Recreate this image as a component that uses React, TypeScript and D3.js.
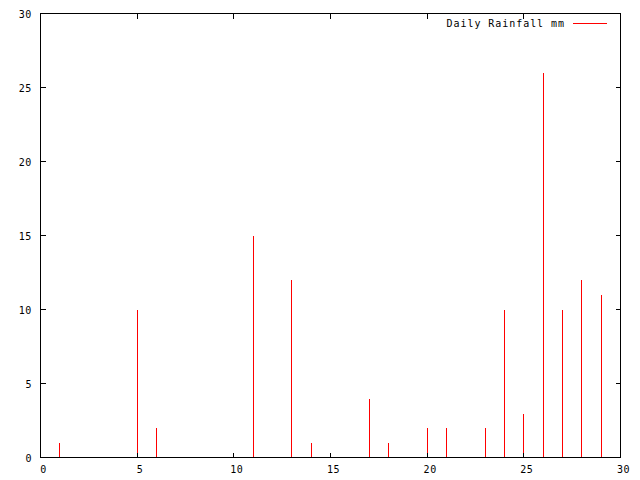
import { useEffect, useRef } from 'react'
import * as d3 from 'd3'

const days = [1, 5, 6, 11, 13, 14, 17, 18, 20, 21, 23, 24, 25, 26, 27, 28, 29]
const rainfall = [1, 10, 2, 15, 12, 1, 4, 1, 2, 2, 2, 10, 3, 26, 10, 12, 11]
const xTicks = [0, 5, 10, 15, 20, 25, 30]
const yTicks = [0, 5, 10, 15, 20, 25, 30]
const legendLabel = 'Daily Rainfall mm'

const W = 640
const H = 480
const M = { left: 40, right: 20, top: 13, bottom: 23 }
const FONT = '"DejaVu Sans Mono", monospace'

export default function App() {
  const svgRef = useRef<SVGSVGElement | null>(null)

  useEffect(() => {
    const svg = d3.select(svgRef.current)
    svg.selectAll('*').remove()

    const x = d3.scaleLinear().domain([0, 30]).range([M.left, W - M.right])
    const y = d3.scaleLinear().domain([0, 30]).range([H - M.bottom, M.top])
    const px = (v: number) => Math.round(v) + 0.5

    svg.append('rect').attr('width', W).attr('height', H).attr('fill', 'white')

    const g = svg.append('g').attr('shape-rendering', 'crispEdges')

    // impulses
    g.selectAll('.bar')
      .data(days)
      .enter()
      .append('line')
      .attr('x1', (d) => px(x(d)))
      .attr('x2', (d) => px(x(d)))
      .attr('y1', px(y(0)))
      .attr('y2', (d, i) => px(y(rainfall[i])))
      .attr('stroke', '#ff0000')
      .attr('stroke-width', 1)

    // ticks, mirrored on all four sides
    const tl = 5
    xTicks.forEach((t) => {
      const xx = px(x(t))
      g.append('line').attr('x1', xx).attr('x2', xx).attr('y1', px(y(0))).attr('y2', px(y(0)) - tl).attr('stroke', 'black')
      g.append('line').attr('x1', xx).attr('x2', xx).attr('y1', px(y(30))).attr('y2', px(y(30)) + tl).attr('stroke', 'black')
      svg.append('text')
        .attr('x', x(t) + 3.5)
        .attr('y', px(y(0)) + 15)
        .attr('text-anchor', 'middle')
        .attr('font-family', FONT)
        .attr('font-size', 10)
        .attr('letter-spacing', 0.6)
        .text(t)
    })
    yTicks.forEach((t) => {
      const yy = px(y(t))
      g.append('line').attr('x1', px(x(0))).attr('x2', px(x(0)) + tl).attr('y1', yy).attr('y2', yy).attr('stroke', 'black')
      g.append('line').attr('x1', px(x(30))).attr('x2', px(x(30)) - tl).attr('y1', yy).attr('y2', yy).attr('stroke', 'black')
      svg.append('text')
        .attr('x', 32)
        .attr('y', yy + 4)
        .attr('text-anchor', 'end')
        .attr('font-family', FONT)
        .attr('font-size', 10)
        .attr('letter-spacing', 0.6)
        .text(t)
    })

    // frame
    g.append('rect')
      .attr('x', px(x(0)))
      .attr('y', px(y(30)))
      .attr('width', Math.round(x(30)) - Math.round(x(0)))
      .attr('height', Math.round(y(0)) - Math.round(y(30)))
      .attr('fill', 'none')
      .attr('stroke', 'black')

    // legend
    svg.append('text')
      .attr('x', 565)
      .attr('y', 27)
      .attr('text-anchor', 'end')
      .attr('font-family', FONT)
      .attr('font-size', 10)
      .attr('letter-spacing', 0.95)
      .text(legendLabel)
    g.append('line')
      .attr('x1', 573)
      .attr('x2', 607)
      .attr('y1', 23.5)
      .attr('y2', 23.5)
      .attr('stroke', '#ff0000')
  }, [])

  return (
    <div style={{ position: 'fixed', left: 0, top: 0 }}>
      <svg ref={svgRef} width={W} height={H} style={{ display: 'block' }} />
    </div>
  )
}
